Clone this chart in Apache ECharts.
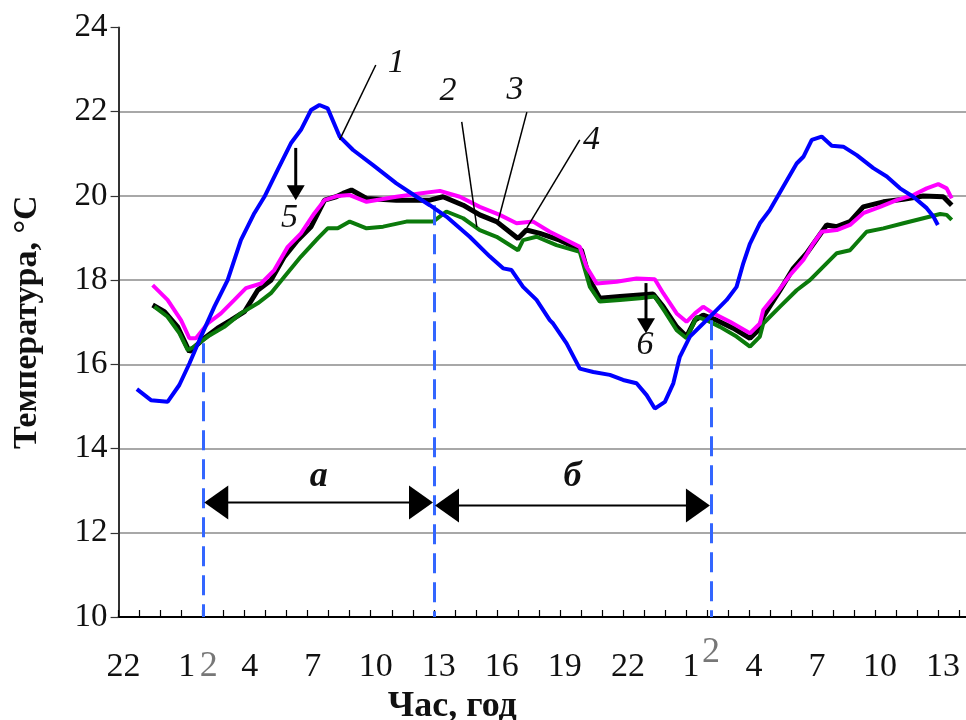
<!DOCTYPE html>
<html><head><meta charset="utf-8">
<script src="https://cdn.jsdelivr.net/npm/echarts@6/dist/echarts.min.js"></script>
<style>html,body{margin:0;padding:0;background:#fff}#c{width:966px;height:720px}</style>
</head><body><div id="c"></div>
<script>
// x = hours elapsed since 22:00 of the first day
const xTickLabels = ['22','1','4','7','10','13','16','19','22','1','4','7','10','13'];

const blueHours = [0.87,1.54,2.33,2.89,3.37,3.92,4.56,5.19,5.82,6.46,6.94,7.57,8.20,8.68,9.16,9.56,9.95,10.52,11.16,12.11,13.22,14.18,14.81,15.60,16.71,17.67,18.30,18.70,19.25,19.89,20.52,20.68,21.32,21.95,22.59,23.38,24.01,24.65,25.13,25.52,26.00,26.40,26.71,27.19,27.82,28.46,28.94,29.41,29.73,30.05,30.52,31.00,31.63,32.27,32.59,32.99,33.46,33.94,34.49,35.13,35.92,36.56,37.19,37.82,38.46,38.78,38.99];
const blueTemps = [15.41,15.15,15.11,15.51,16.02,16.66,17.37,18.00,18.95,19.59,19.98,20.62,21.25,21.57,22.04,22.16,22.08,21.41,21.09,20.73,20.30,19.98,19.78,19.51,19.03,18.56,18.28,18.24,17.84,17.53,17.05,16.97,16.50,15.90,15.82,15.75,15.63,15.55,15.27,14.95,15.11,15.55,16.18,16.66,16.97,17.29,17.53,17.84,18.40,18.87,19.35,19.67,20.22,20.77,20.93,21.33,21.41,21.19,21.17,20.97,20.66,20.46,20.18,19.98,19.71,19.51,19.31];

const blackHours = [1.62,2.18,2.81,3.37,4.08,4.71,5.35,5.99,6.62,7.25,7.89,8.52,9.16,9.80,10.35,10.68,11.08,11.80,13.22,14.81,15.44,16.40,17.19,17.99,19.01,19.41,20.05,21.00,22.03,22.43,22.90,23.86,24.81,25.44,25.92,26.56,27.03,27.43,27.82,28.46,29.25,30.05,30.44,30.68,31.48,32.11,32.75,33.70,34.18,34.81,35.44,36.40,37.35,38.30,39.25,39.65];
const blackTemps = [17.41,17.25,16.89,16.30,16.62,16.86,17.05,17.25,17.76,18.00,18.56,18.95,19.27,19.90,19.98,20.06,20.14,19.94,19.90,19.90,19.98,19.78,19.55,19.39,18.99,19.19,19.11,18.95,18.71,18.00,17.57,17.61,17.65,17.67,17.37,16.89,16.66,17.05,17.17,17.05,16.86,16.62,16.81,17.13,17.76,18.28,18.64,19.31,19.27,19.39,19.74,19.86,19.92,20.00,19.98,19.78];

const magentaHours = [1.62,2.33,2.97,3.37,3.68,4.24,4.87,5.51,6.06,6.78,7.41,8.05,8.68,9.32,9.80,10.43,11.00,11.80,13.22,14.33,15.29,16.24,17.19,18.14,18.94,19.73,20.52,21.00,21.95,22.27,22.75,23.70,24.65,25.52,25.92,26.56,27.03,27.43,27.82,28.30,29.10,30.05,30.52,30.68,31.32,31.95,32.59,33.06,33.46,34.18,34.81,35.44,36.24,37.03,37.82,38.46,39.01,39.41,39.65];
const magentaTemps = [17.88,17.53,17.05,16.62,16.62,16.97,17.21,17.53,17.81,17.92,18.24,18.79,19.11,19.59,19.90,20.00,20.02,19.86,19.98,20.06,20.12,19.98,19.74,19.55,19.35,19.39,19.15,19.03,18.79,18.32,17.92,17.96,18.04,18.02,17.69,17.21,17.01,17.21,17.37,17.21,17.01,16.74,16.97,17.29,17.69,18.12,18.48,18.87,19.15,19.19,19.31,19.59,19.74,19.90,20.02,20.18,20.28,20.18,19.94];

const greenHours = [1.70,2.33,2.89,3.29,3.60,4.24,5.03,5.82,6.62,7.25,7.89,8.68,9.48,9.95,10.43,11.00,11.80,12.59,13.70,14.97,15.60,16.40,17.19,17.99,19.01,19.25,19.89,20.84,21.95,22.43,22.90,23.86,24.81,25.52,26.00,26.56,27.03,27.51,27.99,28.62,29.41,30.05,30.52,30.68,31.48,32.27,32.90,33.54,34.18,34.81,35.60,36.40,37.35,38.30,39.10,39.41,39.65];
const greenTemps = [17.37,17.13,16.74,16.34,16.42,16.66,16.89,17.21,17.45,17.69,18.08,18.56,18.99,19.23,19.23,19.39,19.23,19.27,19.39,19.39,19.63,19.47,19.19,19.03,18.71,18.95,19.03,18.83,18.67,17.84,17.49,17.53,17.57,17.61,17.25,16.81,16.62,17.13,17.05,16.89,16.66,16.42,16.66,16.97,17.37,17.76,18.00,18.32,18.64,18.71,19.15,19.23,19.35,19.47,19.57,19.55,19.43];

// annotations (data coordinates)
const dashHours = [4.03, 15.01, 28.19];
const dashTops = [16.5, 19.78, 17.05];
const periodLabels = ['а', 'б'];
const periodY = [12.72, 12.65];
const curveLabels = ['1','2','3','4','5','6'];
const curveLabelPos = [[13.22,23.15],[15.68,22.48],[18.86,22.52],[22.51,21.33],[8.13,19.47],[25.05,16.46]];
const leaderLines = [[12.24,23.11,10.52,21.33],[16.33,21.76,17.05,19.26],[19.43,21.99,18.05,19.38],[21.95,21.33,19.43,19.24]];
const downArrows = [[8.43,21.14,19.90],[25.10,17.93,16.74]];
const extraTickMarks = [[4.29,0],[28.19,-14]]; // grey "2" marks under the axis, [hour, dy]

const zip = (a, b) => a.map((v, i) => [v, b[i]]);
const FONT = '"Liberation Serif", "Times New Roman", serif';

const chart = echarts.init(document.getElementById('c'), null, {renderer: 'canvas'});

const dashData = dashHours.map((h, i) => [{coord: [h, dashTops[i]]}, {coord: [h, 10]}]);

chart.setOption({
  animation: false,
  backgroundColor: '#fff',
  grid: {left: 118.6, right: 0, top: 27.5, bottom: 103, outerBoundsMode: 'none', containLabel: false},
  xAxis: {
    type: 'value', min: 0, max: 40.33, interval: 1,
    axisLine: {show: true, onZero: false, lineStyle: {color: '#000', width: 2}},
    axisTick: {show: true, inside: true, length: 7, lineStyle: {color: '#000', width: 1.2}},
    splitLine: {show: false},
    axisLabel: {
      show: true, margin: 33, fontFamily: FONT, fontSize: 34, color: '#111',
      padding: [0, 0, 0, 10], showMaxLabel: false,
      formatter: (v) => {
        const r = Math.round(v);
        if (Math.abs(v - r) > 1e-6 || r % 3 !== 0) return '';
        const t = xTickLabels[r / 3];
        return t === undefined ? '' : t;
      }
    },
    name: 'Час, год', nameLocation: 'middle', nameGap: 70,
    nameTextStyle: {fontFamily: FONT, fontWeight: 'bold', fontSize: 36, color: '#111', padding: [0, 180, 0, 0]}
  },
  yAxis: {
    type: 'value', min: 10, max: 24, interval: 2,
    axisLine: {show: true, lineStyle: {color: '#333', width: 2}},
    axisTick: {show: true, inside: false, length: 8, lineStyle: {color: '#333', width: 1.2}},
    splitLine: {show: true, showMinLine: false, showMaxLine: false, lineStyle: {color: '#a8a8a8', width: 2}},
    axisLabel: {margin: 11, fontFamily: FONT, fontSize: 33, color: '#111'},
    name: 'Температура, °С', nameLocation: 'middle', nameGap: 74, nameRotate: 90,
    nameTextStyle: {fontFamily: FONT, fontWeight: 'bold', fontSize: 34, color: '#111', padding: [0, 0, 0, 0]}
  },
  series: [
    {type: 'line', name: 'dash', data: [], silent: true,
     markLine: {silent: true, symbol: ['none', 'none'], label: {show: false},
       lineStyle: {type: [20, 9], color: '#3366ff', width: 3}, data: dashData}},
    {type: 'line', name: '3', data: zip(blackHours, blackTemps), showSymbol: false, symbol: 'none',
     lineStyle: {color: '#000', width: 5}, z: 3},
    {type: 'line', name: '2', data: zip(greenHours, greenTemps), showSymbol: false, symbol: 'none',
     lineStyle: {color: '#0b7a0b', width: 4}, z: 4},
    {type: 'line', name: '4', data: zip(magentaHours, magentaTemps), showSymbol: false, symbol: 'none',
     lineStyle: {color: '#ff00ff', width: 4}, z: 5},
    {type: 'line', name: '1', data: zip(blueHours, blueTemps), showSymbol: false, symbol: 'none',
     lineStyle: {color: '#0000ff', width: 4}, z: 6}
  ]
});

// annotation graphics positioned through the chart's own coordinate conversion
function px(h, v) { return chart.convertToPixel({gridIndex: 0}, [h, v]); }
const g = [];
const annoFont = 'italic 34px ' + FONT;
curveLabels.forEach((t, i) => {
  const p = px(curveLabelPos[i][0], curveLabelPos[i][1]);
  g.push({type: 'text', z: 100, style: {text: t, x: p[0], y: p[1], font: annoFont, fill: '#111', textAlign: 'center', textVerticalAlign: 'middle'}});
});
leaderLines.forEach(l => {
  const a = px(l[0], l[1]), b = px(l[2], l[3]);
  g.push({type: 'line', z: 100, shape: {x1: a[0], y1: a[1], x2: b[0], y2: b[1]}, style: {stroke: '#000', lineWidth: 1.5}});
});
downArrows.forEach(d => {
  const top = px(d[0], d[1]), tip = px(d[0], d[2]);
  g.push({type: 'line', z: 100, shape: {x1: top[0], y1: top[1], x2: tip[0], y2: tip[1] - 12}, style: {stroke: '#000', lineWidth: 3}});
  g.push({type: 'polygon', z: 100, shape: {points: [[tip[0], tip[1]], [tip[0] - 9, tip[1] - 15], [tip[0] + 9, tip[1] - 15]]}, style: {fill: '#000'}});
});
// period arrows а / б
for (let i = 0; i < 2; i++) {
  const a = px(dashHours[i], periodY[i]), b = px(dashHours[i + 1], periodY[i]);
  const y = a[1];
  g.push({type: 'line', z: 100, shape: {x1: a[0] + 20, y1: y, x2: b[0] - 20, y2: y}, style: {stroke: '#000', lineWidth: 2}});
  g.push({type: 'polygon', z: 100, shape: {points: [[a[0] + 1, y], [a[0] + 25, y - 17], [a[0] + 25, y + 17]]}, style: {fill: '#000'}});
  g.push({type: 'polygon', z: 100, shape: {points: [[b[0] - 1, y], [b[0] - 25, y - 17], [b[0] - 25, y + 17]]}, style: {fill: '#000'}});
  const c = px((dashHours[i] + dashHours[i + 1]) / 2, 13.33);
  g.push({type: 'text', z: 100, style: {text: periodLabels[i], x: c[0], y: c[1], font: 'italic bold 36px ' + FONT, fill: '#111', textAlign: 'center', textVerticalAlign: 'middle'}});
}
// grey "2" marks beside the axis labels
extraTickMarks.forEach(m => {
  const p = px(m[0], 10);
  g.push({type: 'text', z: 100, style: {text: '2', x: p[0], y: p[1] + 50 + m[1], font: '36px ' + FONT, fill: '#777', textAlign: 'center', textVerticalAlign: 'middle'}});
});
chart.setOption({graphic: g});
</script>
</body></html>
